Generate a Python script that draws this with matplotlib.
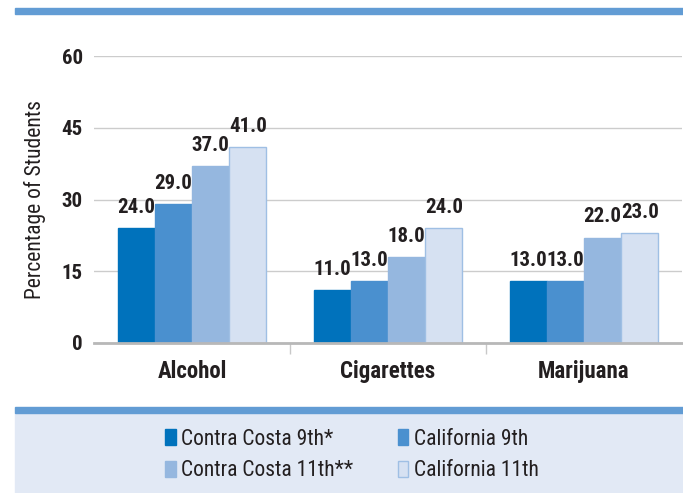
import matplotlib.pyplot as plt
import matplotlib.patches as mpatches
import numpy as np

plt.rcParams['font.family'] = ['Roboto Condensed', 'DejaVu Sans']

categories = ["Alcohol", "Cigarettes", "Marijuana"]
series_names = ["Contra Costa 9th*", "California 9th", "Contra Costa 11th**", "California 11th"]
values = [
    [24.0, 11.0, 13.0],   # Contra Costa 9th*
    [29.0, 13.0, 13.0],   # California 9th
    [37.0, 18.0, 22.0],   # Contra Costa 11th**
    [41.0, 24.0, 23.0],   # California 11th
]
yticks = [0, 15, 30, 45, 60]

colors = ["#0072bc", "#4a90cf", "#95b7df", "#d6e1f2"]
edges = ["#0072bc", "#4a90cf", "#95b7df", "#9fbfe4"]
text_col = "#231f20"

fig = plt.figure(figsize=(6.83, 4.93), dpi=100)

# blue rule at top, legend panel at bottom
fig.patches.append(mpatches.Rectangle((15/683, 1 - 14/493), 1, 6/493, transform=fig.transFigure,
                                      color="#629cd4", zorder=0))
fig.patches.append(mpatches.Rectangle((15/683, 0), 1, 80/493, transform=fig.transFigure,
                                      color="#e2e9f5", zorder=0))
fig.patches.append(mpatches.Rectangle((15/683, 80/493), 1, 6/493, transform=fig.transFigure,
                                      color="#629cd4", zorder=0))

ax = fig.add_axes([94/683, 1 - 343/493, 588/683, 287/493])

x = np.arange(len(categories))
w = 0.19
for i, (name, vals) in enumerate(zip(series_names, values)):
    pos = x + (i - 1.5) * w
    bars = ax.bar(pos, vals, w, color=colors[i], edgecolor=edges[i], linewidth=1,
                  label=name, zorder=3)
    for b, v in zip(bars, vals):
        ax.annotate(f"{v:.1f}", (b.get_x() + b.get_width() / 2, v), xytext=(0, 11),
                    textcoords="offset points", ha="center", va="baseline",
                    fontsize=15, fontweight="bold", color=text_col)

ax.set_xlim(-0.5, 2.5)
ax.set_ylim(0, 60)
ax.set_yticks(yticks)
ax.set_yticklabels([str(t) for t in yticks], fontsize=15, fontweight="bold", color=text_col)
ax.set_xticks(x)
ax.set_xticklabels(categories, fontsize=16.5, fontweight="bold", color=text_col)
ax.tick_params(axis="x", length=0, pad=12)
ax.tick_params(axis="y", length=0, pad=8)
ax.set_xticks([0.5, 1.5], minor=True)
ax.tick_params(axis="x", which="minor", length=8, width=1, color="#c8c8c8")

ax.yaxis.grid(True, color="#cccccc", linewidth=1, zorder=0)
for s in ["top", "right", "left"]:
    ax.spines[s].set_visible(False)
ax.spines["bottom"].set_color("#b8b8b8")
ax.spines["bottom"].set_linewidth(2)
ax.spines["bottom"].set_zorder(4)

ax.set_ylabel("Percentage of Students", fontsize=15.5, color=text_col, labelpad=11)

handles = [mpatches.Patch(facecolor=colors[i], edgecolor=edges[i]) for i in range(4)]
order = [0, 2, 1, 3]
fig.legend([handles[i] for i in order], [series_names[i] for i in order], ncol=2,
           loc="center", bbox_to_anchor=(352/683, 0.077), frameon=False,
           fontsize=15.5, handlelength=0.47, handleheight=0.8, handletextpad=0.25,
           columnspacing=2.1, labelspacing=0.5, labelcolor=text_col)

fig.savefig("out.png", dpi=100)
